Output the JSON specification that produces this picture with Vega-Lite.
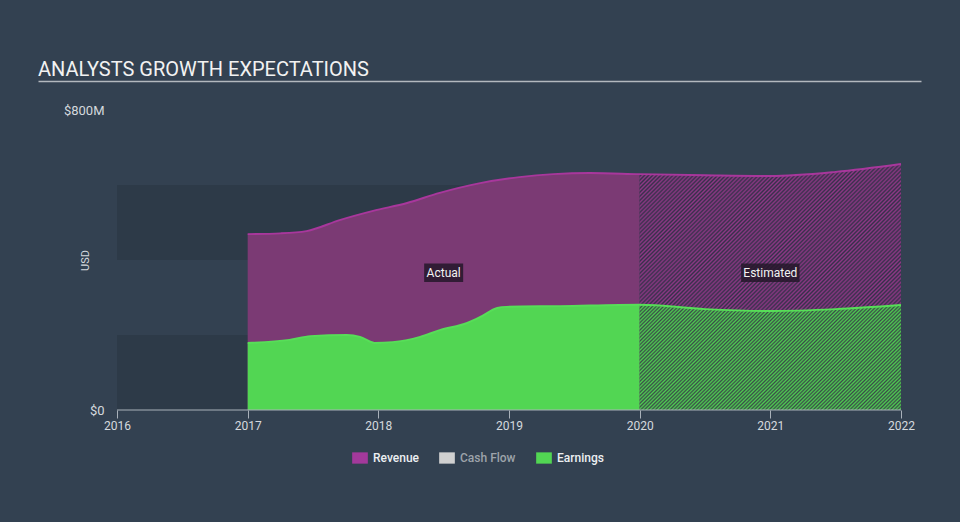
{
  "$schema": "https://vega.github.io/schema/vega-lite/v6.json",
  "width": 883,
  "height": 300,
  "autosize": {"type": "none"},
  "padding": {"left": 38, "top": 110, "right": 39, "bottom": 112},
  "background": "#334151",
  "config": {"font": "Roboto", "view": {"stroke": null}},
  "title": {"text": "ANALYSTS GROWTH EXPECTATIONS", "anchor": "start", "frame": "group", "offset": -14.5, "fontSize": 20, "font": "Roboto", "fontWeight": "normal", "color": "#f2f2f2", "baseline": "alphabetic"},
  "data": {"values": [
    {"series": "Revenue", "year": 2017.0, "value": 469000000},
    {"series": "Revenue", "year": 2017.25, "value": 471000000},
    {"series": "Revenue", "year": 2017.45, "value": 477000000},
    {"series": "Revenue", "year": 2017.71, "value": 507000000},
    {"series": "Revenue", "year": 2017.96, "value": 531000000},
    {"series": "Revenue", "year": 2018.22, "value": 552000000},
    {"series": "Revenue", "year": 2018.47, "value": 579000000},
    {"series": "Revenue", "year": 2018.78, "value": 605000000},
    {"series": "Revenue", "year": 2019.08, "value": 621000000},
    {"series": "Revenue", "year": 2019.34, "value": 629000000},
    {"series": "Revenue", "year": 2019.62, "value": 632000000},
    {"series": "Revenue", "year": 2020.0, "value": 629000000},
    {"series": "Revenue", "year": 2020.5, "value": 626000000},
    {"series": "Revenue", "year": 2021.0, "value": 624000000},
    {"series": "Revenue", "year": 2021.5, "value": 635000000},
    {"series": "Revenue", "year": 2022.0, "value": 656000000},
    {"series": "Earnings", "year": 2017.0, "value": 179000000},
    {"series": "Earnings", "year": 2017.32, "value": 187000000},
    {"series": "Earnings", "year": 2017.48, "value": 197000000},
    {"series": "Earnings", "year": 2017.76, "value": 200000000},
    {"series": "Earnings", "year": 2017.86, "value": 195000000},
    {"series": "Earnings", "year": 2017.97, "value": 179000000},
    {"series": "Earnings", "year": 2018.11, "value": 181000000},
    {"series": "Earnings", "year": 2018.32, "value": 195000000},
    {"series": "Earnings", "year": 2018.47, "value": 213000000},
    {"series": "Earnings", "year": 2018.68, "value": 232000000},
    {"series": "Earnings", "year": 2018.78, "value": 248000000},
    {"series": "Earnings", "year": 2018.91, "value": 272000000},
    {"series": "Earnings", "year": 2018.98, "value": 275000000},
    {"series": "Earnings", "year": 2019.39, "value": 277000000},
    {"series": "Earnings", "year": 2020.0, "value": 281000000},
    {"series": "Earnings", "year": 2020.5, "value": 269000000},
    {"series": "Earnings", "year": 2021.0, "value": 264000000},
    {"series": "Earnings", "year": 2021.5, "value": 269000000},
    {"series": "Earnings", "year": 2022.0, "value": 280000000}
  ]},
  "resolve": {"axis": {"x": "independent", "y": "independent"}},
  "layer": [
    {
      "transform": [{"filter": "datum.series === 'Revenue' && datum.year === 2017"}],
      "mark": {"type": "rect", "color": "#2d3a48"},
      "encoding": {
        "x": {"datum": 2016, "type": "quantitative", "scale": {"domain": [2015.3954, 2022.1531], "nice": false, "zero": false}, "axis": {"orient": "top", "offset": 29, "domain": true, "domainColor": "#b3b8be", "domainWidth": 1.5, "ticks": false, "labels": false, "grid": false, "title": null}},
        "x2": {"datum": 2022},
        "y": {"datum": 0, "type": "quantitative", "scale": {"domain": [0, 800000000], "nice": false}, "axis": null},
        "y2": {"datum": 200000000}
      }
    },
    {
      "transform": [{"filter": "datum.series === 'Revenue' && datum.year === 2017"}],
      "mark": {"type": "rect", "color": "#2d3a48"},
      "encoding": {
        "x": {"datum": 2016, "type": "quantitative", "scale": {"domain": [2015.3954, 2022.1531], "nice": false, "zero": false}, "axis": null},
        "x2": {"datum": 2022},
        "y": {"datum": 400000000, "type": "quantitative", "scale": {"domain": [0, 800000000], "nice": false}, "axis": null},
        "y2": {"datum": 600000000}
      }
    },
    {
      "transform": [{"filter": "datum.series === 'Revenue' && datum.year <= 2020"}],
      "mark": {"type": "area", "interpolate": "monotone", "color": "#7b3a74"},
      "encoding": {
        "x": {"field": "year", "type": "quantitative", "scale": {"domain": [2015.3954, 2022.1531], "nice": false, "zero": false}, "axis": null},
        "y": {"field": "value", "type": "quantitative", "scale": {"domain": [0, 800000000], "nice": false}, "title": "USD",
          "axis": {"orient": "left", "offset": -79, "values": [0, 800000000], "labelExpr": "datum.value == 0 ? '$0' : '$800M'", "domain": false, "ticks": false, "grid": false, "labelColor": "#d5d9de", "labelFontSize": 13, "labelPadding": 13, "titleColor": "#d5d9de", "titleFontSize": 11, "titleFontWeight": "normal", "titleX": -32, "titleY": 150, "titleAngle": -90, "titleAlign": "center", "titleBaseline": "middle"}}
      }
    },
    {
      "transform": [{"filter": "datum.series === 'Revenue' && datum.year >= 2020"}],
      "mark": {"type": "area", "interpolate": "monotone", "color": {"gradient": "linear", "x1": 0, "y1": 0, "x2": 1.0288, "y2": 0.9697, "stops": [
        {"offset":0,"color":"#36304a"},{"offset":0.004,"color":"#8e3886"},{"offset":0.008,"color":"#36304a"},{"offset":0.012,"color":"#8e3886"},{"offset":0.016,"color":"#36304a"},{"offset":0.02,"color":"#8e3886"},{"offset":0.024,"color":"#36304a"},{"offset":0.028,"color":"#8e3886"},{"offset":0.032,"color":"#36304a"},{"offset":0.036,"color":"#8e3886"},{"offset":0.04,"color":"#36304a"},{"offset":0.044,"color":"#8e3886"},{"offset":0.048,"color":"#36304a"},{"offset":0.052,"color":"#8e3886"},{"offset":0.056,"color":"#36304a"},{"offset":0.06,"color":"#8e3886"},{"offset":0.064,"color":"#36304a"},{"offset":0.068,"color":"#8e3886"},{"offset":0.072,"color":"#36304a"},{"offset":0.076,"color":"#8e3886"},{"offset":0.08,"color":"#36304a"},{"offset":0.084,"color":"#8e3886"},{"offset":0.088,"color":"#36304a"},{"offset":0.092,"color":"#8e3886"},{"offset":0.096,"color":"#36304a"},
        {"offset":0.1,"color":"#8e3886"},{"offset":0.104,"color":"#36304a"},{"offset":0.108,"color":"#8e3886"},{"offset":0.112,"color":"#36304a"},{"offset":0.116,"color":"#8e3886"},{"offset":0.12,"color":"#36304a"},{"offset":0.124,"color":"#8e3886"},{"offset":0.128,"color":"#36304a"},{"offset":0.132,"color":"#8e3886"},{"offset":0.136,"color":"#36304a"},{"offset":0.14,"color":"#8e3886"},{"offset":0.144,"color":"#36304a"},{"offset":0.148,"color":"#8e3886"},{"offset":0.152,"color":"#36304a"},{"offset":0.156,"color":"#8e3886"},{"offset":0.16,"color":"#36304a"},{"offset":0.164,"color":"#8e3886"},{"offset":0.168,"color":"#36304a"},{"offset":0.172,"color":"#8e3886"},{"offset":0.176,"color":"#36304a"},{"offset":0.18,"color":"#8e3886"},{"offset":0.184,"color":"#36304a"},{"offset":0.188,"color":"#8e3886"},{"offset":0.192,"color":"#36304a"},{"offset":0.196,"color":"#8e3886"},
        {"offset":0.2,"color":"#36304a"},{"offset":0.204,"color":"#8e3886"},{"offset":0.208,"color":"#36304a"},{"offset":0.212,"color":"#8e3886"},{"offset":0.216,"color":"#36304a"},{"offset":0.22,"color":"#8e3886"},{"offset":0.224,"color":"#36304a"},{"offset":0.228,"color":"#8e3886"},{"offset":0.232,"color":"#36304a"},{"offset":0.236,"color":"#8e3886"},{"offset":0.24,"color":"#36304a"},{"offset":0.244,"color":"#8e3886"},{"offset":0.248,"color":"#36304a"},{"offset":0.252,"color":"#8e3886"},{"offset":0.256,"color":"#36304a"},{"offset":0.26,"color":"#8e3886"},{"offset":0.264,"color":"#36304a"},{"offset":0.268,"color":"#8e3886"},{"offset":0.272,"color":"#36304a"},{"offset":0.276,"color":"#8e3886"},{"offset":0.28,"color":"#36304a"},{"offset":0.284,"color":"#8e3886"},{"offset":0.288,"color":"#36304a"},{"offset":0.292,"color":"#8e3886"},{"offset":0.296,"color":"#36304a"},
        {"offset":0.3,"color":"#8e3886"},{"offset":0.304,"color":"#36304a"},{"offset":0.308,"color":"#8e3886"},{"offset":0.312,"color":"#36304a"},{"offset":0.316,"color":"#8e3886"},{"offset":0.32,"color":"#36304a"},{"offset":0.324,"color":"#8e3886"},{"offset":0.328,"color":"#36304a"},{"offset":0.332,"color":"#8e3886"},{"offset":0.336,"color":"#36304a"},{"offset":0.34,"color":"#8e3886"},{"offset":0.344,"color":"#36304a"},{"offset":0.348,"color":"#8e3886"},{"offset":0.352,"color":"#36304a"},{"offset":0.356,"color":"#8e3886"},{"offset":0.36,"color":"#36304a"},{"offset":0.364,"color":"#8e3886"},{"offset":0.368,"color":"#36304a"},{"offset":0.372,"color":"#8e3886"},{"offset":0.376,"color":"#36304a"},{"offset":0.38,"color":"#8e3886"},{"offset":0.384,"color":"#36304a"},{"offset":0.388,"color":"#8e3886"},{"offset":0.392,"color":"#36304a"},{"offset":0.396,"color":"#8e3886"},
        {"offset":0.4,"color":"#36304a"},{"offset":0.404,"color":"#8e3886"},{"offset":0.408,"color":"#36304a"},{"offset":0.412,"color":"#8e3886"},{"offset":0.416,"color":"#36304a"},{"offset":0.42,"color":"#8e3886"},{"offset":0.424,"color":"#36304a"},{"offset":0.428,"color":"#8e3886"},{"offset":0.432,"color":"#36304a"},{"offset":0.436,"color":"#8e3886"},{"offset":0.44,"color":"#36304a"},{"offset":0.444,"color":"#8e3886"},{"offset":0.448,"color":"#36304a"},{"offset":0.452,"color":"#8e3886"},{"offset":0.456,"color":"#36304a"},{"offset":0.46,"color":"#8e3886"},{"offset":0.464,"color":"#36304a"},{"offset":0.468,"color":"#8e3886"},{"offset":0.472,"color":"#36304a"},{"offset":0.476,"color":"#8e3886"},{"offset":0.48,"color":"#36304a"},{"offset":0.484,"color":"#8e3886"},{"offset":0.488,"color":"#36304a"},{"offset":0.492,"color":"#8e3886"},{"offset":0.496,"color":"#36304a"},
        {"offset":0.5,"color":"#8e3886"},{"offset":0.504,"color":"#36304a"},{"offset":0.508,"color":"#8e3886"},{"offset":0.512,"color":"#36304a"},{"offset":0.516,"color":"#8e3886"},{"offset":0.52,"color":"#36304a"},{"offset":0.524,"color":"#8e3886"},{"offset":0.528,"color":"#36304a"},{"offset":0.532,"color":"#8e3886"},{"offset":0.536,"color":"#36304a"},{"offset":0.54,"color":"#8e3886"},{"offset":0.544,"color":"#36304a"},{"offset":0.548,"color":"#8e3886"},{"offset":0.552,"color":"#36304a"},{"offset":0.556,"color":"#8e3886"},{"offset":0.56,"color":"#36304a"},{"offset":0.564,"color":"#8e3886"},{"offset":0.568,"color":"#36304a"},{"offset":0.572,"color":"#8e3886"},{"offset":0.576,"color":"#36304a"},{"offset":0.58,"color":"#8e3886"},{"offset":0.584,"color":"#36304a"},{"offset":0.588,"color":"#8e3886"},{"offset":0.592,"color":"#36304a"},{"offset":0.596,"color":"#8e3886"},
        {"offset":0.6,"color":"#36304a"},{"offset":0.604,"color":"#8e3886"},{"offset":0.608,"color":"#36304a"},{"offset":0.612,"color":"#8e3886"},{"offset":0.616,"color":"#36304a"},{"offset":0.62,"color":"#8e3886"},{"offset":0.624,"color":"#36304a"},{"offset":0.628,"color":"#8e3886"},{"offset":0.632,"color":"#36304a"},{"offset":0.636,"color":"#8e3886"},{"offset":0.64,"color":"#36304a"},{"offset":0.644,"color":"#8e3886"},{"offset":0.648,"color":"#36304a"},{"offset":0.652,"color":"#8e3886"},{"offset":0.656,"color":"#36304a"},{"offset":0.66,"color":"#8e3886"},{"offset":0.664,"color":"#36304a"},{"offset":0.668,"color":"#8e3886"},{"offset":0.672,"color":"#36304a"},{"offset":0.676,"color":"#8e3886"},{"offset":0.68,"color":"#36304a"},{"offset":0.684,"color":"#8e3886"},{"offset":0.688,"color":"#36304a"},{"offset":0.692,"color":"#8e3886"},{"offset":0.696,"color":"#36304a"},
        {"offset":0.7,"color":"#8e3886"},{"offset":0.704,"color":"#36304a"},{"offset":0.708,"color":"#8e3886"},{"offset":0.712,"color":"#36304a"},{"offset":0.716,"color":"#8e3886"},{"offset":0.72,"color":"#36304a"},{"offset":0.724,"color":"#8e3886"},{"offset":0.728,"color":"#36304a"},{"offset":0.732,"color":"#8e3886"},{"offset":0.736,"color":"#36304a"},{"offset":0.74,"color":"#8e3886"},{"offset":0.744,"color":"#36304a"},{"offset":0.748,"color":"#8e3886"},{"offset":0.752,"color":"#36304a"},{"offset":0.756,"color":"#8e3886"},{"offset":0.76,"color":"#36304a"},{"offset":0.764,"color":"#8e3886"},{"offset":0.768,"color":"#36304a"},{"offset":0.772,"color":"#8e3886"},{"offset":0.776,"color":"#36304a"},{"offset":0.78,"color":"#8e3886"},{"offset":0.784,"color":"#36304a"},{"offset":0.788,"color":"#8e3886"},{"offset":0.792,"color":"#36304a"},{"offset":0.796,"color":"#8e3886"},
        {"offset":0.8,"color":"#36304a"},{"offset":0.804,"color":"#8e3886"},{"offset":0.808,"color":"#36304a"},{"offset":0.812,"color":"#8e3886"},{"offset":0.816,"color":"#36304a"},{"offset":0.82,"color":"#8e3886"},{"offset":0.824,"color":"#36304a"},{"offset":0.828,"color":"#8e3886"},{"offset":0.832,"color":"#36304a"},{"offset":0.836,"color":"#8e3886"},{"offset":0.84,"color":"#36304a"},{"offset":0.844,"color":"#8e3886"},{"offset":0.848,"color":"#36304a"},{"offset":0.852,"color":"#8e3886"},{"offset":0.856,"color":"#36304a"},{"offset":0.86,"color":"#8e3886"},{"offset":0.864,"color":"#36304a"},{"offset":0.868,"color":"#8e3886"},{"offset":0.872,"color":"#36304a"},{"offset":0.876,"color":"#8e3886"},{"offset":0.88,"color":"#36304a"},{"offset":0.884,"color":"#8e3886"},{"offset":0.888,"color":"#36304a"},{"offset":0.892,"color":"#8e3886"},{"offset":0.896,"color":"#36304a"},
        {"offset":0.9,"color":"#8e3886"},{"offset":0.904,"color":"#36304a"},{"offset":0.908,"color":"#8e3886"},{"offset":0.912,"color":"#36304a"},{"offset":0.916,"color":"#8e3886"},{"offset":0.92,"color":"#36304a"},{"offset":0.924,"color":"#8e3886"},{"offset":0.928,"color":"#36304a"},{"offset":0.932,"color":"#8e3886"},{"offset":0.936,"color":"#36304a"},{"offset":0.94,"color":"#8e3886"},{"offset":0.944,"color":"#36304a"},{"offset":0.948,"color":"#8e3886"},{"offset":0.952,"color":"#36304a"},{"offset":0.956,"color":"#8e3886"},{"offset":0.96,"color":"#36304a"},{"offset":0.964,"color":"#8e3886"},{"offset":0.968,"color":"#36304a"},{"offset":0.972,"color":"#8e3886"},{"offset":0.976,"color":"#36304a"},{"offset":0.98,"color":"#8e3886"},{"offset":0.984,"color":"#36304a"},{"offset":0.988,"color":"#8e3886"},{"offset":0.992,"color":"#36304a"},{"offset":0.996,"color":"#8e3886"},
        {"offset":1,"color":"#36304a"}
      ]}},
      "encoding": {
        "x": {"field": "year", "type": "quantitative", "scale": {"domain": [2015.3954, 2022.1531], "nice": false, "zero": false}, "axis": null},
        "y": {"field": "value", "type": "quantitative", "scale": {"domain": [0, 800000000], "nice": false}, "axis": null}
      }
    },
    {
      "transform": [{"filter": "datum.series === 'Earnings' && datum.year <= 2020"}],
      "mark": {"type": "area", "interpolate": "monotone", "color": "#52d653"},
      "encoding": {
        "x": {"field": "year", "type": "quantitative", "scale": {"domain": [2015.3954, 2022.1531], "nice": false, "zero": false}, "axis": null},
        "y": {"field": "value", "type": "quantitative", "scale": {"domain": [0, 800000000], "nice": false}, "axis": null}
      }
    },
    {
      "transform": [{"filter": "datum.series === 'Earnings' && datum.year >= 2020"}],
      "mark": {"type": "area", "interpolate": "monotone", "color": {"gradient": "linear", "x1": 0, "y1": 0, "x2": 1.207, "y2": 0.4874, "stops": [
        {"offset":0,"color":"#3a4d48"},{"offset":0.005,"color":"#4fcf52"},{"offset":0.01,"color":"#3a4d48"},{"offset":0.015,"color":"#4fcf52"},{"offset":0.02,"color":"#3a4d48"},{"offset":0.025,"color":"#4fcf52"},{"offset":0.03,"color":"#3a4d48"},{"offset":0.035,"color":"#4fcf52"},{"offset":0.04,"color":"#3a4d48"},{"offset":0.045,"color":"#4fcf52"},{"offset":0.05,"color":"#3a4d48"},{"offset":0.055,"color":"#4fcf52"},{"offset":0.06,"color":"#3a4d48"},{"offset":0.065,"color":"#4fcf52"},{"offset":0.07,"color":"#3a4d48"},{"offset":0.075,"color":"#4fcf52"},{"offset":0.08,"color":"#3a4d48"},{"offset":0.085,"color":"#4fcf52"},{"offset":0.09,"color":"#3a4d48"},{"offset":0.095,"color":"#4fcf52"},
        {"offset":0.1,"color":"#3a4d48"},{"offset":0.105,"color":"#4fcf52"},{"offset":0.11,"color":"#3a4d48"},{"offset":0.115,"color":"#4fcf52"},{"offset":0.12,"color":"#3a4d48"},{"offset":0.125,"color":"#4fcf52"},{"offset":0.13,"color":"#3a4d48"},{"offset":0.135,"color":"#4fcf52"},{"offset":0.14,"color":"#3a4d48"},{"offset":0.145,"color":"#4fcf52"},{"offset":0.15,"color":"#3a4d48"},{"offset":0.155,"color":"#4fcf52"},{"offset":0.16,"color":"#3a4d48"},{"offset":0.165,"color":"#4fcf52"},{"offset":0.17,"color":"#3a4d48"},{"offset":0.175,"color":"#4fcf52"},{"offset":0.18,"color":"#3a4d48"},{"offset":0.185,"color":"#4fcf52"},{"offset":0.19,"color":"#3a4d48"},{"offset":0.195,"color":"#4fcf52"},
        {"offset":0.2,"color":"#3a4d48"},{"offset":0.205,"color":"#4fcf52"},{"offset":0.21,"color":"#3a4d48"},{"offset":0.215,"color":"#4fcf52"},{"offset":0.22,"color":"#3a4d48"},{"offset":0.225,"color":"#4fcf52"},{"offset":0.23,"color":"#3a4d48"},{"offset":0.235,"color":"#4fcf52"},{"offset":0.24,"color":"#3a4d48"},{"offset":0.245,"color":"#4fcf52"},{"offset":0.25,"color":"#3a4d48"},{"offset":0.255,"color":"#4fcf52"},{"offset":0.26,"color":"#3a4d48"},{"offset":0.265,"color":"#4fcf52"},{"offset":0.27,"color":"#3a4d48"},{"offset":0.275,"color":"#4fcf52"},{"offset":0.28,"color":"#3a4d48"},{"offset":0.285,"color":"#4fcf52"},{"offset":0.29,"color":"#3a4d48"},{"offset":0.295,"color":"#4fcf52"},
        {"offset":0.3,"color":"#3a4d48"},{"offset":0.305,"color":"#4fcf52"},{"offset":0.31,"color":"#3a4d48"},{"offset":0.315,"color":"#4fcf52"},{"offset":0.32,"color":"#3a4d48"},{"offset":0.325,"color":"#4fcf52"},{"offset":0.33,"color":"#3a4d48"},{"offset":0.335,"color":"#4fcf52"},{"offset":0.34,"color":"#3a4d48"},{"offset":0.345,"color":"#4fcf52"},{"offset":0.35,"color":"#3a4d48"},{"offset":0.355,"color":"#4fcf52"},{"offset":0.36,"color":"#3a4d48"},{"offset":0.365,"color":"#4fcf52"},{"offset":0.37,"color":"#3a4d48"},{"offset":0.375,"color":"#4fcf52"},{"offset":0.38,"color":"#3a4d48"},{"offset":0.385,"color":"#4fcf52"},{"offset":0.39,"color":"#3a4d48"},{"offset":0.395,"color":"#4fcf52"},
        {"offset":0.4,"color":"#3a4d48"},{"offset":0.405,"color":"#4fcf52"},{"offset":0.41,"color":"#3a4d48"},{"offset":0.415,"color":"#4fcf52"},{"offset":0.42,"color":"#3a4d48"},{"offset":0.425,"color":"#4fcf52"},{"offset":0.43,"color":"#3a4d48"},{"offset":0.435,"color":"#4fcf52"},{"offset":0.44,"color":"#3a4d48"},{"offset":0.445,"color":"#4fcf52"},{"offset":0.45,"color":"#3a4d48"},{"offset":0.455,"color":"#4fcf52"},{"offset":0.46,"color":"#3a4d48"},{"offset":0.465,"color":"#4fcf52"},{"offset":0.47,"color":"#3a4d48"},{"offset":0.475,"color":"#4fcf52"},{"offset":0.48,"color":"#3a4d48"},{"offset":0.485,"color":"#4fcf52"},{"offset":0.49,"color":"#3a4d48"},{"offset":0.495,"color":"#4fcf52"},
        {"offset":0.5,"color":"#3a4d48"},{"offset":0.505,"color":"#4fcf52"},{"offset":0.51,"color":"#3a4d48"},{"offset":0.515,"color":"#4fcf52"},{"offset":0.52,"color":"#3a4d48"},{"offset":0.525,"color":"#4fcf52"},{"offset":0.53,"color":"#3a4d48"},{"offset":0.535,"color":"#4fcf52"},{"offset":0.54,"color":"#3a4d48"},{"offset":0.545,"color":"#4fcf52"},{"offset":0.55,"color":"#3a4d48"},{"offset":0.555,"color":"#4fcf52"},{"offset":0.56,"color":"#3a4d48"},{"offset":0.565,"color":"#4fcf52"},{"offset":0.57,"color":"#3a4d48"},{"offset":0.575,"color":"#4fcf52"},{"offset":0.58,"color":"#3a4d48"},{"offset":0.585,"color":"#4fcf52"},{"offset":0.59,"color":"#3a4d48"},{"offset":0.595,"color":"#4fcf52"},
        {"offset":0.6,"color":"#3a4d48"},{"offset":0.605,"color":"#4fcf52"},{"offset":0.61,"color":"#3a4d48"},{"offset":0.615,"color":"#4fcf52"},{"offset":0.62,"color":"#3a4d48"},{"offset":0.625,"color":"#4fcf52"},{"offset":0.63,"color":"#3a4d48"},{"offset":0.635,"color":"#4fcf52"},{"offset":0.64,"color":"#3a4d48"},{"offset":0.645,"color":"#4fcf52"},{"offset":0.65,"color":"#3a4d48"},{"offset":0.655,"color":"#4fcf52"},{"offset":0.66,"color":"#3a4d48"},{"offset":0.665,"color":"#4fcf52"},{"offset":0.67,"color":"#3a4d48"},{"offset":0.675,"color":"#4fcf52"},{"offset":0.68,"color":"#3a4d48"},{"offset":0.685,"color":"#4fcf52"},{"offset":0.69,"color":"#3a4d48"},{"offset":0.695,"color":"#4fcf52"},
        {"offset":0.7,"color":"#3a4d48"},{"offset":0.705,"color":"#4fcf52"},{"offset":0.71,"color":"#3a4d48"},{"offset":0.715,"color":"#4fcf52"},{"offset":0.72,"color":"#3a4d48"},{"offset":0.725,"color":"#4fcf52"},{"offset":0.73,"color":"#3a4d48"},{"offset":0.735,"color":"#4fcf52"},{"offset":0.74,"color":"#3a4d48"},{"offset":0.745,"color":"#4fcf52"},{"offset":0.75,"color":"#3a4d48"},{"offset":0.755,"color":"#4fcf52"},{"offset":0.76,"color":"#3a4d48"},{"offset":0.765,"color":"#4fcf52"},{"offset":0.77,"color":"#3a4d48"},{"offset":0.775,"color":"#4fcf52"},{"offset":0.78,"color":"#3a4d48"},{"offset":0.785,"color":"#4fcf52"},{"offset":0.79,"color":"#3a4d48"},{"offset":0.795,"color":"#4fcf52"},
        {"offset":0.8,"color":"#3a4d48"},{"offset":0.805,"color":"#4fcf52"},{"offset":0.81,"color":"#3a4d48"},{"offset":0.815,"color":"#4fcf52"},{"offset":0.82,"color":"#3a4d48"},{"offset":0.825,"color":"#4fcf52"},{"offset":0.83,"color":"#3a4d48"},{"offset":0.835,"color":"#4fcf52"},{"offset":0.84,"color":"#3a4d48"},{"offset":0.845,"color":"#4fcf52"},{"offset":0.85,"color":"#3a4d48"},{"offset":0.855,"color":"#4fcf52"},{"offset":0.86,"color":"#3a4d48"},{"offset":0.865,"color":"#4fcf52"},{"offset":0.87,"color":"#3a4d48"},{"offset":0.875,"color":"#4fcf52"},{"offset":0.88,"color":"#3a4d48"},{"offset":0.885,"color":"#4fcf52"},{"offset":0.89,"color":"#3a4d48"},{"offset":0.895,"color":"#4fcf52"},
        {"offset":0.9,"color":"#3a4d48"},{"offset":0.905,"color":"#4fcf52"},{"offset":0.91,"color":"#3a4d48"},{"offset":0.915,"color":"#4fcf52"},{"offset":0.92,"color":"#3a4d48"},{"offset":0.925,"color":"#4fcf52"},{"offset":0.93,"color":"#3a4d48"},{"offset":0.935,"color":"#4fcf52"},{"offset":0.94,"color":"#3a4d48"},{"offset":0.945,"color":"#4fcf52"},{"offset":0.95,"color":"#3a4d48"},{"offset":0.955,"color":"#4fcf52"},{"offset":0.96,"color":"#3a4d48"},{"offset":0.965,"color":"#4fcf52"},{"offset":0.97,"color":"#3a4d48"},{"offset":0.975,"color":"#4fcf52"},{"offset":0.98,"color":"#3a4d48"},{"offset":0.985,"color":"#4fcf52"},{"offset":0.99,"color":"#3a4d48"},{"offset":0.995,"color":"#4fcf52"},
        {"offset":1,"color":"#3a4d48"}
      ]}},
      "encoding": {
        "x": {"field": "year", "type": "quantitative", "scale": {"domain": [2015.3954, 2022.1531], "nice": false, "zero": false}, "axis": null},
        "y": {"field": "value", "type": "quantitative", "scale": {"domain": [0, 800000000], "nice": false}, "axis": null}
      }
    },
    {
      "transform": [{"filter": "datum.series === 'Revenue'"}],
      "mark": {"type": "line", "interpolate": "monotone", "color": "#a8379c", "strokeWidth": 2},
      "encoding": {
        "x": {"field": "year", "type": "quantitative", "scale": {"domain": [2015.3954, 2022.1531], "nice": false, "zero": false}, "axis": null},
        "y": {"field": "value", "type": "quantitative", "scale": {"domain": [0, 800000000], "nice": false}, "axis": null}
      }
    },
    {
      "transform": [{"filter": "datum.series === 'Earnings'"}],
      "mark": {"type": "line", "interpolate": "monotone", "color": "#57de58", "strokeWidth": 2},
      "encoding": {
        "x": {"field": "year", "type": "quantitative", "scale": {"domain": [2015.3954, 2022.1531], "nice": false, "zero": false}, "axis": null},
        "y": {"field": "value", "type": "quantitative", "scale": {"domain": [0, 800000000], "nice": false}, "axis": null}
      }
    },
    {
      "mark": {"type": "point", "filled": true, "opacity": 0},
      "encoding": {
        "x": {"field": "year", "type": "quantitative", "scale": {"domain": [2015.3954, 2022.1531], "nice": false, "zero": false}, "axis": null},
        "y": {"field": "value", "type": "quantitative", "scale": {"domain": [0, 800000000], "nice": false}, "axis": null},
        "color": {"field": "series", "type": "nominal", "scale": {"domain": ["Revenue", "Cash Flow", "Earnings"], "range": ["#a3399b", "#d0d0d0", "#52d653"]},
          "legend": {"orient": "none", "legendX": 314, "legendY": 340, "direction": "horizontal", "title": null, "padding": 0, "symbolType": "M-1,-0.72H1V0.72H-1Z", "symbolSize": 246, "labelFontSize": 12, "labelFont": "Roboto", "labelFontWeight": 500, "columnPadding": 20, "labelOffset": 5, "symbolOpacity": 1, "symbolStrokeWidth": 0,
            "encode": {"labels": {"update": {"fill": {"signal": "datum.value === 'Cash Flow' ? '#9da3aa' : '#eceff2'"}}}}}}
      }
    },
    {
      "transform": [{"filter": "datum.series === 'Revenue' && datum.year === 2017"}],
      "mark": {"type": "rule", "color": "#a9b1ba", "strokeWidth": 1.2},
      "encoding": {
        "x": {"datum": 2016, "type": "quantitative", "scale": {"domain": [2015.3954, 2022.1531], "nice": false, "zero": false}, "axis": {"orient": "bottom", "values": [2016, 2017, 2018, 2019, 2020, 2021, 2022], "format": "d", "domain": false, "ticks": true, "tickSize": 8, "tickColor": "#a9b1ba", "tickWidth": 1, "labelColor": "#d5d9de", "labelFontSize": 12, "labelPadding": 2, "labelFlush": false, "grid": false, "title": null}},
        "x2": {"datum": 2022},
        "y": {"datum": 0, "type": "quantitative", "scale": {"domain": [0, 800000000], "nice": false}, "axis": null}
      }
    },
    {
      "transform": [{"filter": "datum.series === 'Revenue' && datum.year === 2017"}],
      "mark": {"type": "point", "shape": "M-1,-0.472H1V0.472H-1Z", "size": 1521, "filled": true, "color": "#25172a", "opacity": 0.85, "strokeWidth": 0},
      "encoding": {
        "x": {"datum": 2018.5, "type": "quantitative", "scale": {"domain": [2015.3954, 2022.1531], "nice": false, "zero": false}, "axis": null},
        "y": {"datum": 366000000, "type": "quantitative", "scale": {"domain": [0, 800000000], "nice": false}, "axis": null}
      }
    },
    {
      "transform": [{"filter": "datum.series === 'Revenue' && datum.year === 2017"}],
      "mark": {"type": "text", "text": "Actual", "color": "#f2f2f2", "fontSize": 12, "font": "Roboto"},
      "encoding": {
        "x": {"datum": 2018.5, "type": "quantitative", "scale": {"domain": [2015.3954, 2022.1531], "nice": false, "zero": false}, "axis": null},
        "y": {"datum": 366000000, "type": "quantitative", "scale": {"domain": [0, 800000000], "nice": false}, "axis": null}
      }
    },
    {
      "transform": [{"filter": "datum.series === 'Revenue' && datum.year === 2017"}],
      "mark": {"type": "point", "shape": "M-1,-0.315H1V0.315H-1Z", "size": 3411, "filled": true, "color": "#25172a", "opacity": 0.85, "strokeWidth": 0},
      "encoding": {
        "x": {"datum": 2021.0, "type": "quantitative", "scale": {"domain": [2015.3954, 2022.1531], "nice": false, "zero": false}, "axis": null},
        "y": {"datum": 366000000, "type": "quantitative", "scale": {"domain": [0, 800000000], "nice": false}, "axis": null}
      }
    },
    {
      "transform": [{"filter": "datum.series === 'Revenue' && datum.year === 2017"}],
      "mark": {"type": "text", "text": "Estimated", "color": "#f2f2f2", "fontSize": 12, "font": "Roboto"},
      "encoding": {
        "x": {"datum": 2021.0, "type": "quantitative", "scale": {"domain": [2015.3954, 2022.1531], "nice": false, "zero": false}, "axis": null},
        "y": {"datum": 366000000, "type": "quantitative", "scale": {"domain": [0, 800000000], "nice": false}, "axis": null}
      }
    }
  ]
}
